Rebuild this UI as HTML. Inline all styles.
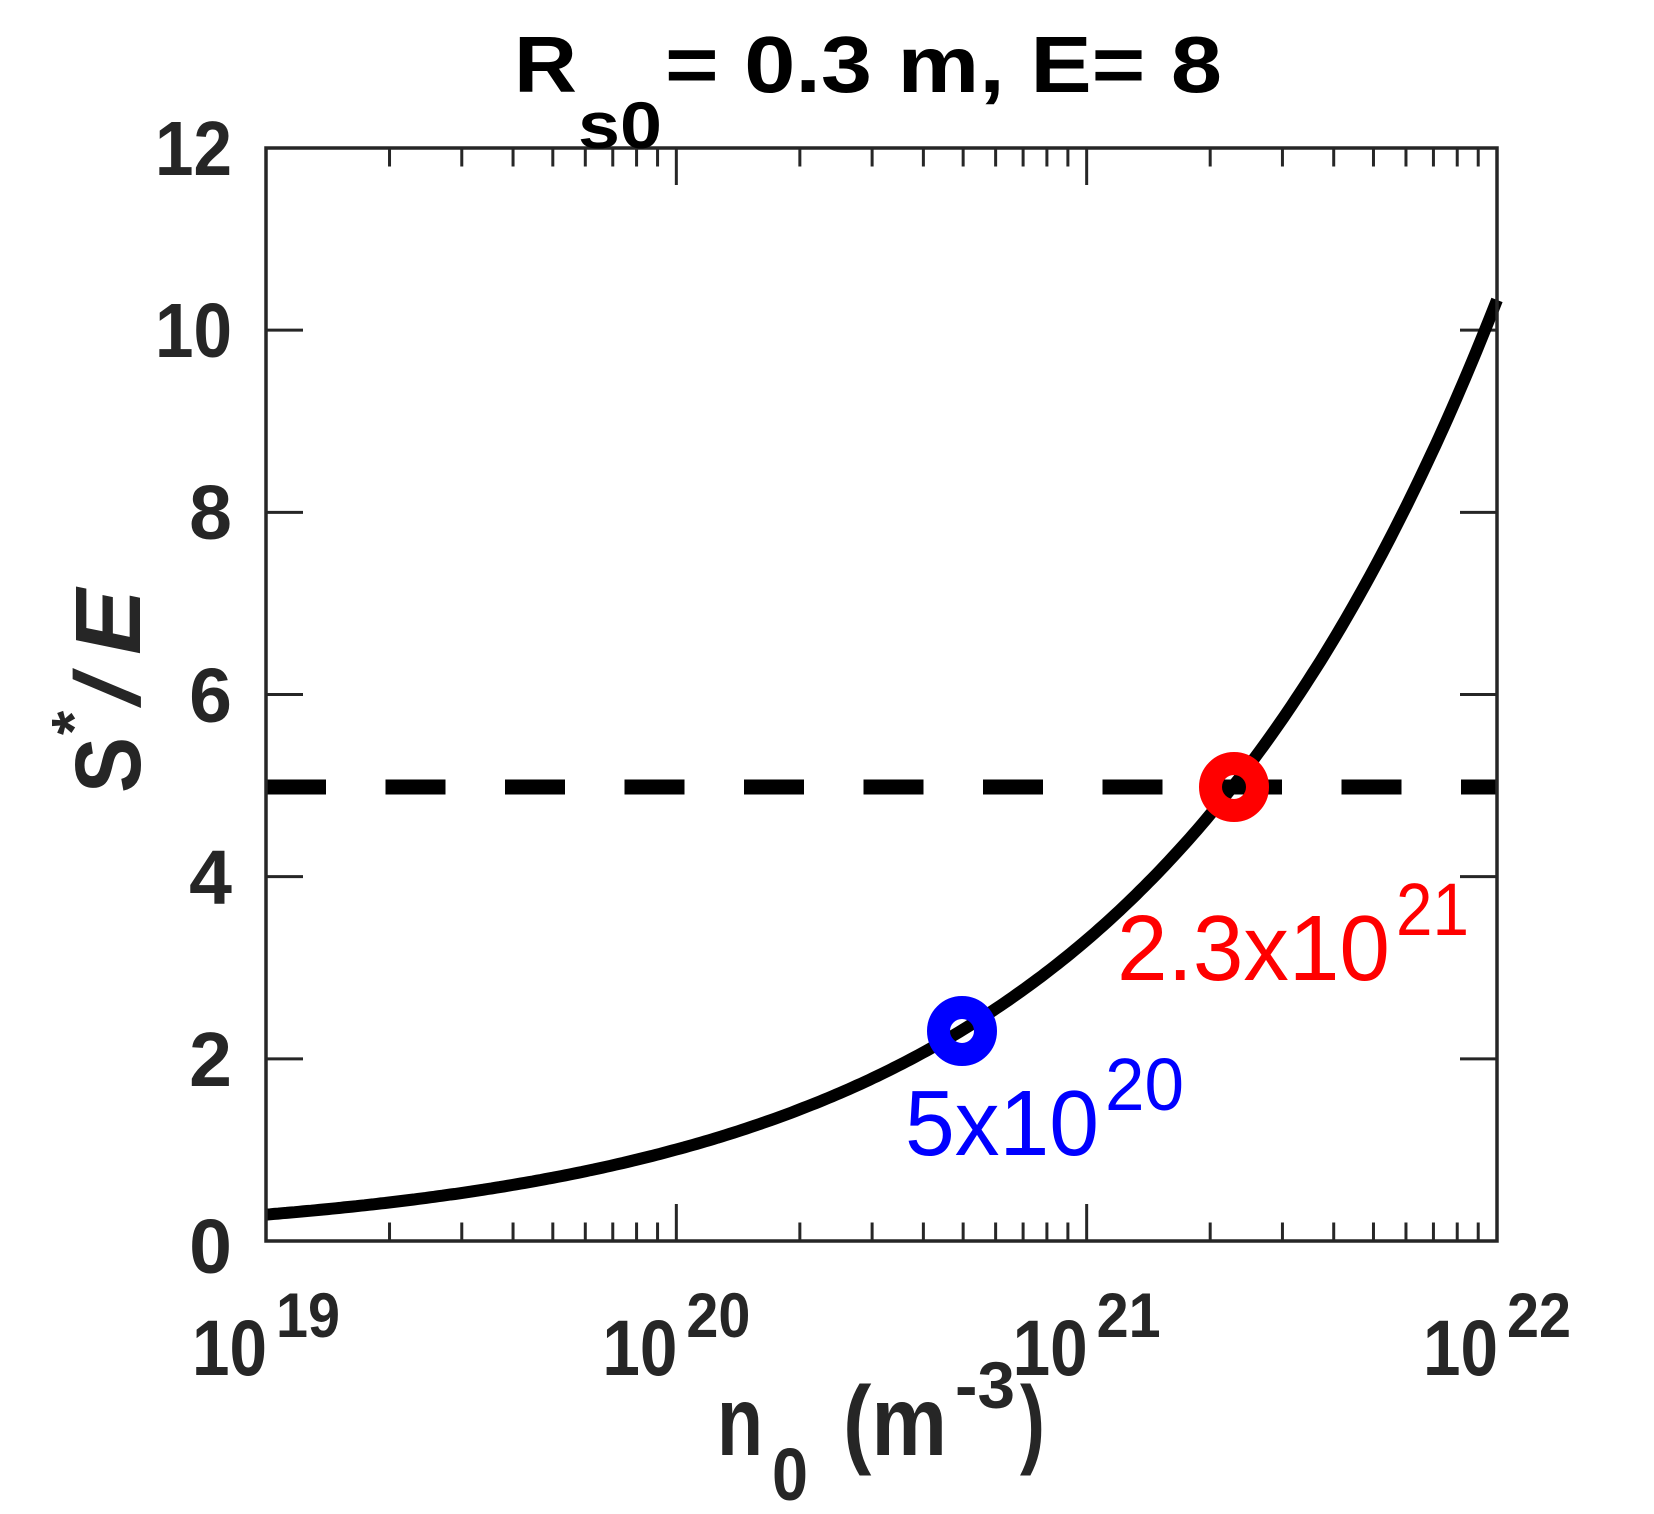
<!DOCTYPE html>
<html><head><meta charset="utf-8"><style>
html,body{margin:0;padding:0;background:#fff;}
svg{display:block;}
text{font-family:"Liberation Sans",Arial,sans-serif;}
</style></head><body>
<svg id="s" width="1654" height="1514" viewBox="0 0 1654 1514" xmlns="http://www.w3.org/2000/svg">
<rect width="1654" height="1514" fill="#fff"/>
<g id="ticks" stroke="#262626" stroke-width="3" fill="none"></g>
<path id="curve" fill="none" stroke="#000" stroke-width="12"/>
<line x1="266" y1="787" x2="1497" y2="787" stroke="#000" stroke-width="15" stroke-dasharray="60 59.5"/>
<rect x="266" y="148" width="1231" height="1093" fill="none" stroke="#262626" stroke-width="3.5"/>
<circle cx="1234" cy="787" r="23.5" fill="none" stroke="#ff0000" stroke-width="23"/>
<circle cx="962" cy="1031" r="23.5" fill="none" stroke="#0000ff" stroke-width="23"/>

<!-- title -->
<text x="514" y="92" font-size="80" font-weight="bold" fill="#000" textLength="63" lengthAdjust="spacingAndGlyphs">R</text>
<text x="578" y="148" font-size="66" font-weight="bold" fill="#000" textLength="84" lengthAdjust="spacingAndGlyphs">s0</text>
<text x="665" y="92" font-size="80" font-weight="bold" fill="#000" textLength="557" lengthAdjust="spacingAndGlyphs">= 0.3 m, E= 8</text>

<!-- y tick labels -->
<g font-size="77" font-weight="bold" fill="#262626" text-anchor="end">
<text x="232" y="175" textLength="77" lengthAdjust="spacingAndGlyphs">12</text>
<text x="232" y="357" textLength="77" lengthAdjust="spacingAndGlyphs">10</text>
<text x="232" y="539">8</text>
<text x="232" y="722">6</text>
<text x="232" y="904">4</text>
<text x="232" y="1086">2</text>
<text x="232" y="1273">0</text>
</g>

<!-- x tick labels -->
<g font-weight="bold" fill="#262626" id="xl"></g>

<!-- x label -->
<g font-weight="bold" fill="#262626">
<text x="717" y="1455" font-size="98" textLength="46" lengthAdjust="spacingAndGlyphs">n</text>
<text x="772" y="1500" font-size="74" textLength="36" lengthAdjust="spacingAndGlyphs">0</text>
<text x="843" y="1455" font-size="98" textLength="104" lengthAdjust="spacingAndGlyphs">(m</text>
<text x="955" y="1408" font-size="66" textLength="60" lengthAdjust="spacingAndGlyphs">-3</text>
<text x="1020" y="1455" font-size="98" textLength="25" lengthAdjust="spacingAndGlyphs">)</text>
</g>

<!-- y label -->
<g transform="translate(140,793) rotate(-90)" font-weight="bold" fill="#262626">
<text x="0" y="0" font-size="93" textLength="56" lengthAdjust="spacingAndGlyphs">S</text>
<text x="58" y="-45" font-size="62">*</text>
<text x="85" y="0" font-size="93" font-weight="normal" textLength="40" lengthAdjust="spacingAndGlyphs">/</text>
<text x="138" y="0" font-size="93" font-style="italic" textLength="66" lengthAdjust="spacingAndGlyphs">E</text>
</g>

<!-- annotations -->
<text x="1117" y="980" font-size="93" fill="#ff0000" textLength="273" lengthAdjust="spacingAndGlyphs">2.3x10</text>
<text x="1396" y="935" font-size="74" fill="#ff0000" textLength="73" lengthAdjust="spacingAndGlyphs">21</text>
<text x="905" y="1155" font-size="93" fill="#0000ff" textLength="194" lengthAdjust="spacingAndGlyphs">5x10</text>
<text x="1105" y="1110" font-size="74" fill="#0000ff" textLength="79" lengthAdjust="spacingAndGlyphs">20</text>
</svg>
<script>
(function(){
var L=266,R=1497,T=148,B=1241,dec=(R-L)/3,ns="http://www.w3.org/2000/svg";
var g=document.getElementById('ticks');
function ln(x1,y1,x2,y2){var e=document.createElementNS(ns,'line');e.setAttribute('x1',x1);e.setAttribute('y1',y1);e.setAttribute('x2',x2);e.setAttribute('y2',y2);g.appendChild(e);}
for(var d=0;d<3;d++){for(var k=1;k<10;k++){var x=L+dec*(d+Math.log10(k));var len=(k==1)?37:18.5;if(k==1&&d==0)continue;ln(x,B,x,B-len);ln(x,T,x,T+len);}}
for(var v=2;v<=10;v+=2){var y=B-v*(B-T)/12;ln(L,y,L+37,y);ln(R,y,R-37,y);}
var p='';for(var i=0;i<=300;i++){var u=3*i/300;var s=Math.pow(10,-0.538+0.551*u-0.0112*u*u);var x=L+u*dec;var y=B-s*(B-T)/12;p+=(i?'L':'M')+x.toFixed(1)+' '+y.toFixed(1);}
document.getElementById('curve').setAttribute('d',p);
var xl=document.getElementById('xl');
var ex=['19','20','21','22'];
for(var d=0;d<4;d++){var cx=L+dec*d;var t=document.createElementNS(ns,'text');t.setAttribute('x',cx-74);t.setAttribute('y',1375);t.setAttribute('font-size','79');t.setAttribute('textLength','75');t.setAttribute('lengthAdjust','spacingAndGlyphs');t.textContent='10';xl.appendChild(t);
var t2=document.createElementNS(ns,'text');t2.setAttribute('x',cx+10);t2.setAttribute('y',1337);t2.setAttribute('font-size','63');t2.setAttribute('textLength','64');t2.setAttribute('lengthAdjust','spacingAndGlyphs');t2.textContent=ex[d];xl.appendChild(t2);}
})();
</script>
</body></html>
